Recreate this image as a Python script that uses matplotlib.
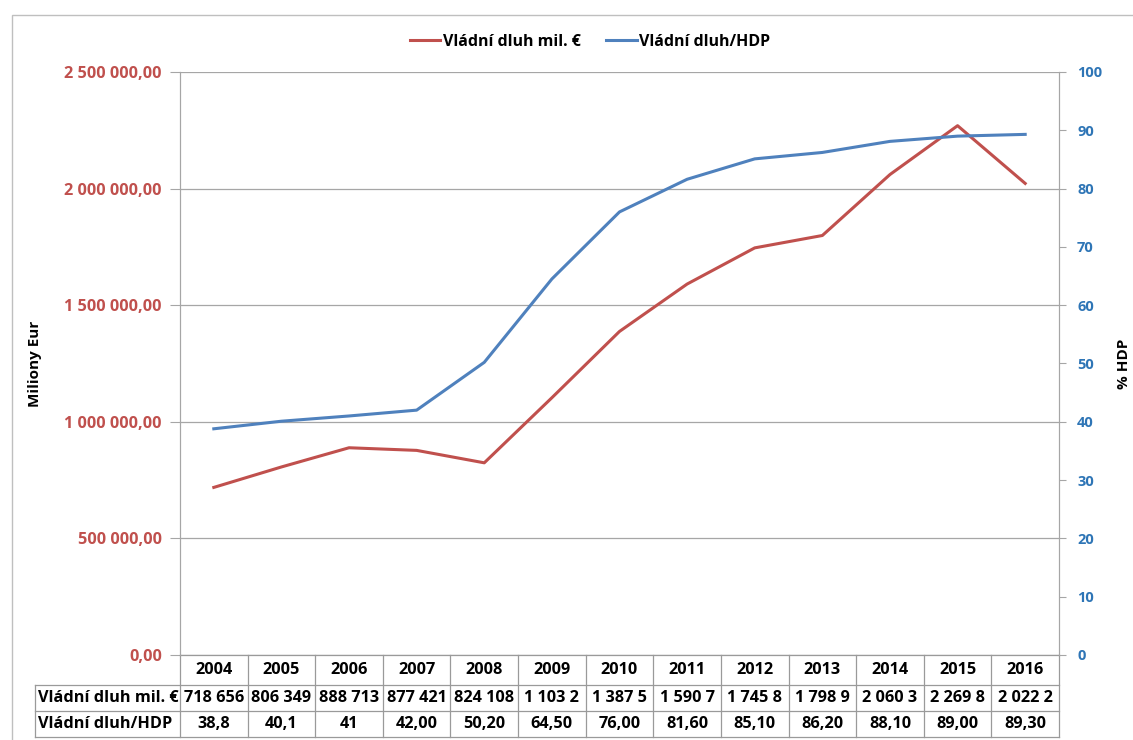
import numpy as np
import matplotlib
matplotlib.use('Agg')
import matplotlib.pyplot as plt
from matplotlib.lines import Line2D
from matplotlib.patches import Rectangle
from matplotlib.transforms import blended_transform_factory

# data
years = ['2004', '2005', '2006', '2007', '2008', '2009', '2010',
         '2011', '2012', '2013', '2014', '2015', '2016']
dluh = [718656, 806349, 888713, 877421, 824108, 1103200, 1387500,
        1590700, 1745800, 1798900, 2060300, 2269800, 2022200]
hdp = [38.8, 40.1, 41, 42.0, 50.2, 64.5, 76.0,
       81.6, 85.1, 86.2, 88.1, 89.0, 89.3]
hdp_labels = ['38,8', '40,1', '41', '42,00', '50,20', '64,50', '76,00',
              '81,60', '85,10', '86,20', '88,10', '89,00', '89,30']
row_labels = ['Vládní dluh mil. €', 'Vládní dluh/HDP']

RED = '#C0504D'
BLUE = '#4F81BD'
RED_TXT = '#C0504D'
BLUE_TXT = '#2E75B6'
GRID = '#A6A6A6'

plt.rcParams['font.family'] = ['Open Sans', 'DejaVu Sans']

W, H = 1133, 740
fig = plt.figure(figsize=(W / 100, H / 100), dpi=100)

# outer chart frame (only left and top edges visible)
fig.patches.append(Rectangle((12 / W, -0.02), 1.1, 1 - 15 / H + 0.02,
                             transform=fig.transFigure, fill=False,
                             edgecolor='#BFBFBF', lw=1.0))

left, right, top, bottom = 180, 1059, 72, 655
pw = right - left
ph = bottom - top
ax = fig.add_axes([left / W, 1 - bottom / H, pw / W, ph / H])
ax2 = ax.twinx()

x = np.arange(len(years))
ax.plot(x, dluh, color=RED, lw=2.2, zorder=3)
ax2.plot(x, hdp, color=BLUE, lw=2.2, zorder=3)

ax.set_xlim(-0.5, len(years) - 0.5)
ax.set_ylim(0, 2500000)
ax.set_yticks(np.arange(0, 2500001, 500000))
ax.set_yticklabels([f'{v:,.2f}'.replace(',', ' ').replace('.', ',')
                    for v in np.arange(0, 2500001, 500000)])
ax.set_xticks([])
ax.grid(axis='y', color=GRID, lw=0.9)
ax.set_axisbelow(True)
ax.tick_params(axis='y', colors=GRID, labelcolor=RED_TXT, labelsize=11.7,
               length=7, direction='out', pad=6)
for lab in ax.get_yticklabels():
    lab.set_fontweight('bold')

ax2.set_ylim(0, 100)
ax2.set_yticks(np.arange(0, 101, 10))
ax2.tick_params(axis='y', colors=GRID, labelcolor=BLUE_TXT, labelsize=10.5,
                length=5, direction='out', pad=8)
for lab in ax2.get_yticklabels():
    lab.set_fontweight('bold')

for a in (ax, ax2):
    a.spines['top'].set_visible(False)
    a.spines['bottom'].set_visible(False)
    a.spines['left'].set_color(GRID)
    a.spines['right'].set_color(GRID)

ax.set_ylabel('Miliony Eur', fontsize=11, fontweight='bold')
ax.yaxis.set_label_coords((42 - left) / pw, 0.5)
ax2.set_ylabel('% HDP', fontsize=11, fontweight='bold', rotation=90)
ax2.yaxis.set_label_coords((1117 - left) / pw, 0.5)

# data table under the chart, drawn with x in data coords, y in axes fraction
tr = blended_transform_factory(ax.transData, ax.transAxes)
tra = ax.transAxes
def fy(py):
    return (bottom - py) / ph

row_y = [655, 685, 711, 737]
lab_x = (35 - left) / pw
line_kw = dict(color='#9A9A9A', lw=0.9, clip_on=False)
xe = len(years) - 0.5
# horizontal lines
ax.plot([-0.5, xe], [fy(row_y[0])] * 2, transform=tr, **line_kw)
for py in row_y[1:]:
    ax.plot([lab_x, 1], [fy(py)] * 2, transform=tra, **line_kw)
# vertical lines
for i in range(len(years) + 1):
    ax.plot([i - 0.5] * 2, [fy(row_y[0]), fy(row_y[-1])], transform=tr, **line_kw)
ax.plot([lab_x] * 2, [fy(row_y[1]), fy(row_y[-1])], transform=tra, **line_kw)

dluh_txt = [f'{v:,}'.replace(',', ' ')[:7] for v in dluh]
txt_kw = dict(fontsize=11.7, fontweight='bold', va='center', clip_on=False)
for i, (yr, d, h) in enumerate(zip(years, dluh_txt, hdp_labels)):
    ax.text(i, fy(670), yr, transform=tr, ha='center', **txt_kw)
    ax.text(i, fy(698), d, transform=tr, ha='center', **txt_kw)
    ax.text(i, fy(724), h, transform=tr, ha='center', **txt_kw)
for py, lab in zip([698, 724], row_labels):
    ax.text((38 - left) / pw, fy(py), lab, transform=tra, ha='left', **txt_kw)

handles = [Line2D([], [], color=RED, lw=2.2), Line2D([], [], color=BLUE, lw=2.2)]
fig.legend(handles, row_labels, loc='center',
           bbox_to_anchor=(590 / W, 1 - 42 / H), ncol=2, frameon=False,
           prop=dict(size=11.5, weight='bold'), handlelength=1.9,
           handletextpad=0.15, columnspacing=1.6)

fig.savefig('out.png', dpi=100)
